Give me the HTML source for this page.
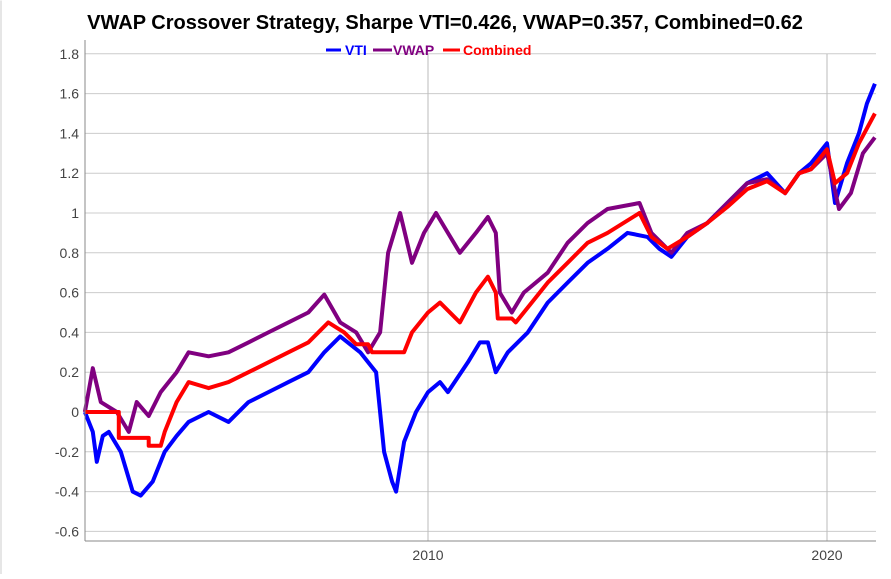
<!DOCTYPE html>
<html><head><meta charset="utf-8"><style>
body{margin:0;background:#fff;font-family:"Liberation Sans",sans-serif;}
svg text{font-family:"Liberation Sans",sans-serif;}
</style></head><body>
<svg id="chart" width="891" height="574" xmlns="http://www.w3.org/2000/svg">
<rect x="0.5" y="0.5" width="1" height="574" fill="#ccc"/>
<text x="445" y="29" text-anchor="middle" font-size="20" font-weight="bold" fill="#000">VWAP Crossover Strategy, Sharpe VTI=0.426, VWAP=0.357, Combined=0.62</text>
<g id="grid"></g><g id="series"></g><g id="axes"></g>
<g font-size="14" font-weight="bold">
<line x1="326" y1="50" x2="341" y2="50" stroke="#0000ff" stroke-width="3"/>
<text x="345" y="55" fill="#0000ff">VTI</text>
<line x1="373" y1="50" x2="392" y2="50" stroke="#800080" stroke-width="3"/>
<text x="393" y="55" fill="#800080">VWAP</text>
<line x1="443" y1="50" x2="460" y2="50" stroke="#ff0000" stroke-width="3"/>
<text x="463" y="55" fill="#ff0000">Combined</text>
</g>
</svg>
<script>
const yTicks=[-0.6,-0.4,-0.2,0,0.2,0.4,0.6,0.8,1,1.2,1.4,1.6,1.8];
const yTickLabels=["-0.6","-0.4","-0.2","0","0.2","0.4","0.6","0.8","1","1.2","1.4","1.6","1.8"];
const xTicks=[2010,2020];
const vtiT=[2001.4,2001.6,2001.7,2001.85,2002.0,2002.3,2002.6,2002.8,2003.1,2003.4,2003.7,2004.0,2004.5,2005.0,2005.5,2006.0,2006.5,2007.0,2007.4,2007.8,2008.3,2008.7,2008.9,2009.1,2009.2,2009.4,2009.7,2010.0,2010.3,2010.5,2011.0,2011.3,2011.5,2011.7,2012.0,2012.5,2013.0,2013.5,2014.0,2014.5,2015.0,2015.5,2015.8,2016.1,2016.5,2017.0,2017.5,2018.0,2018.5,2018.95,2019.3,2019.6,2020.0,2020.2,2020.5,2020.8,2021.0,2021.2];
const vtiV=[0,-0.1,-0.25,-0.12,-0.1,-0.2,-0.4,-0.42,-0.35,-0.2,-0.12,-0.05,0,-0.05,0.05,0.1,0.15,0.2,0.3,0.38,0.3,0.2,-0.2,-0.35,-0.4,-0.15,0,0.1,0.15,0.1,0.25,0.35,0.35,0.2,0.3,0.4,0.55,0.65,0.75,0.82,0.9,0.88,0.82,0.78,0.88,0.95,1.05,1.15,1.2,1.1,1.2,1.25,1.35,1.05,1.25,1.4,1.55,1.65];
const vwapT=[2001.4,2001.6,2001.8,2002.2,2002.5,2002.7,2003.0,2003.3,2003.7,2004.0,2004.5,2005.0,2005.5,2006.0,2006.5,2007.0,2007.4,2007.8,2008.2,2008.5,2008.8,2009.0,2009.3,2009.6,2009.9,2010.2,2010.5,2010.8,2011.2,2011.5,2011.7,2011.8,2012.1,2012.4,2013.0,2013.5,2014.0,2014.5,2015.3,2015.6,2016.1,2016.5,2017.0,2017.5,2018.0,2018.5,2018.95,2019.3,2019.6,2020.0,2020.3,2020.6,2020.9,2021.2];
const vwapV=[0,0.22,0.05,0,-0.1,0.05,-0.02,0.1,0.2,0.3,0.28,0.3,0.35,0.4,0.45,0.5,0.59,0.45,0.4,0.3,0.4,0.8,1.0,0.75,0.9,1.0,0.9,0.8,0.9,0.98,0.9,0.6,0.5,0.6,0.7,0.85,0.95,1.02,1.05,0.9,0.8,0.9,0.95,1.05,1.15,1.17,1.1,1.2,1.22,1.3,1.02,1.1,1.3,1.38];
const combT=[2001.4,2002.25,2002.25,2003.0,2003.0,2003.3,2003.4,2003.7,2004.0,2004.5,2005.0,2005.5,2006.0,2006.5,2007.0,2007.5,2007.9,2008.2,2008.5,2008.6,2009.4,2009.6,2010.0,2010.3,2010.8,2011.2,2011.5,2011.7,2011.75,2012.1,2012.2,2012.6,2013.0,2013.5,2014.0,2014.5,2015.3,2015.6,2016.0,2016.5,2017.0,2017.5,2018.0,2018.5,2018.95,2019.3,2019.6,2020.0,2020.2,2020.5,2020.8,2021.2];
const combV=[0,0,-0.13,-0.13,-0.17,-0.17,-0.1,0.05,0.15,0.12,0.15,0.2,0.25,0.3,0.35,0.45,0.4,0.34,0.34,0.3,0.3,0.4,0.5,0.55,0.45,0.6,0.68,0.6,0.47,0.47,0.45,0.55,0.65,0.75,0.85,0.9,1.0,0.88,0.82,0.88,0.95,1.03,1.12,1.16,1.1,1.2,1.22,1.32,1.15,1.2,1.35,1.5];
const L=85,R=876,T=54,B=541;
const xS=t=>428+(t-2010)*39.9;
const yS=v=>412-v*199;
const NS="http://www.w3.org/2000/svg";
function mk(tag,attrs,parent){const e=document.createElementNS(NS,tag);for(const k in attrs)e.setAttribute(k,attrs[k]);parent.appendChild(e);return e;}
const grid=document.getElementById('grid'),axes=document.getElementById('axes'),ser=document.getElementById('series');
yTicks.forEach((v,i)=>{
 const g=mk('line',{x1:L,x2:R,y1:yS(v),y2:yS(v),stroke:'#ccc','stroke-width':1},grid);
 
 
 const t=mk('text',{x:L-6,y:yS(v)+5,'text-anchor':'end','font-size':14,fill:'#444'},axes);
 t.textContent=yTickLabels[i];
 
 
});
xTicks.forEach(y=>{
 const g=mk('line',{x1:xS(y),x2:xS(y),y1:T,y2:B,stroke:'#bbb','stroke-width':1},grid);
 
 
 const t=mk('text',{x:xS(y),y:B+19,'text-anchor':'middle','font-size':14,fill:'#444'},axes);
 t.textContent=String(y);
 
 
});
const ya=mk('line',{x1:L,x2:L,y1:T-14,y2:B,stroke:'#888','stroke-width':1},axes);


const xa=mk('line',{x1:L,x2:R,y1:B,y2:B,stroke:'#888','stroke-width':1},axes);


function draw(ts,vs,col,name){
 const d=ts.map((t,i)=>(i?'L':'M')+xS(t).toFixed(1)+','+yS(vs[i]).toFixed(1)).join('');
 const p=mk('path',{d:d,fill:'none',stroke:col,'stroke-width':4,'stroke-linejoin':'round'},ser);
 
 
}
draw(vtiT,vtiV,'#0000ff','vti-line');
draw(vwapT,vwapV,'#800080','vwap-line');
draw(combT,combV,'#ff0000','combined-line');
</script>
</body></html>
